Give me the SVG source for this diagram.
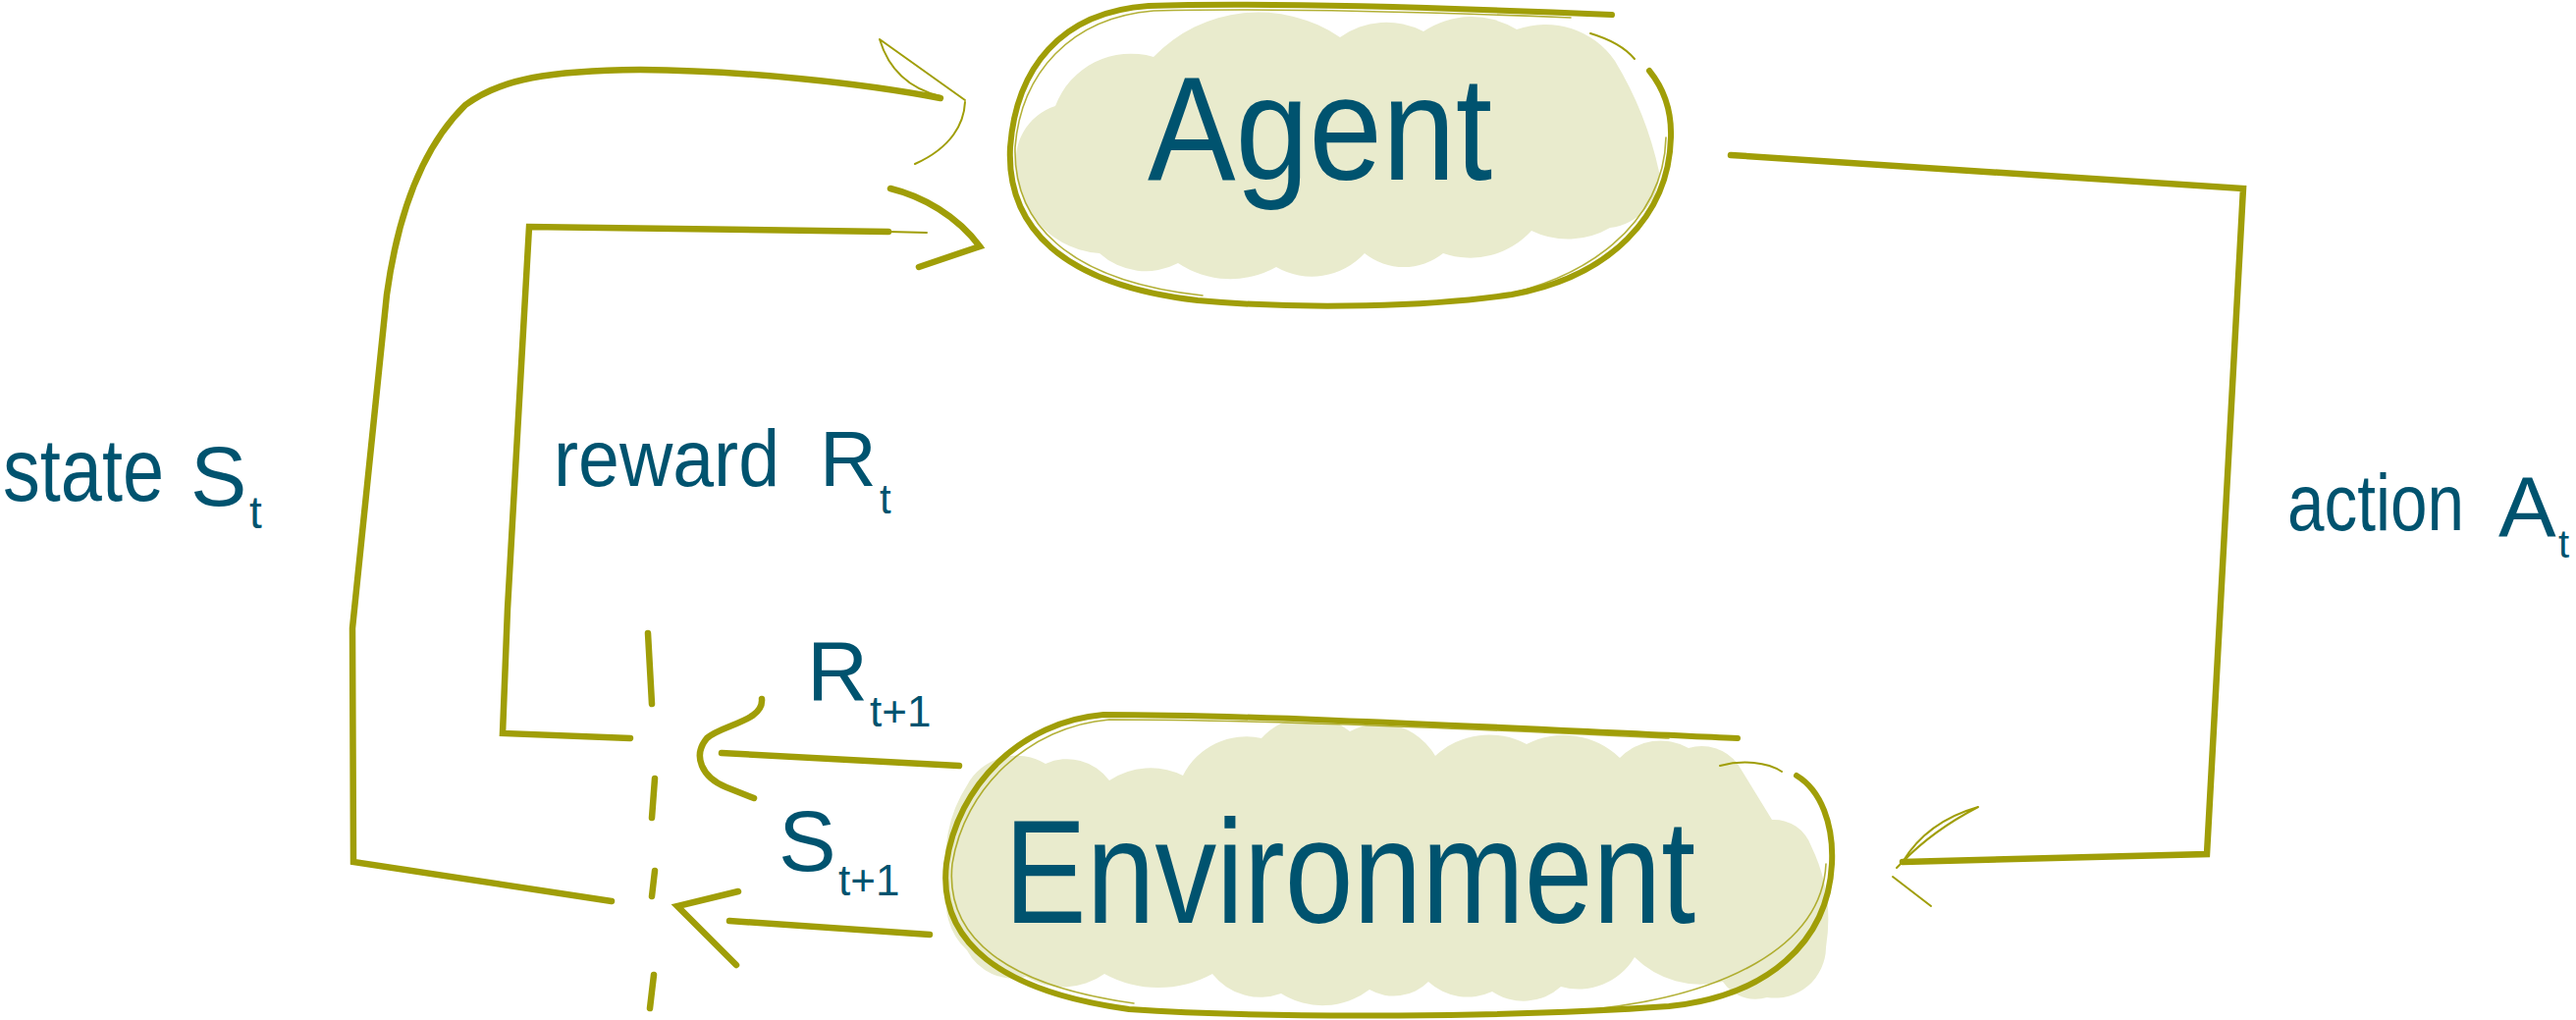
<svg xmlns="http://www.w3.org/2000/svg" width="2624" height="1039" viewBox="0 0 2624 1039">
<defs>
<style>
.ol{fill:none;stroke:#a09e08;stroke-width:6;stroke-linecap:round;stroke-linejoin:round}
.olt{fill:none;stroke:#a09e08;stroke-width:1.6;stroke-linecap:round;stroke-linejoin:round;opacity:0.8}
.cn{fill:none;stroke:#a09e08;stroke-width:6.5;stroke-linecap:round;stroke-linejoin:miter}
.thin{fill:none;stroke:#a09e08;stroke-width:2;stroke-linecap:round;stroke-linejoin:round}
.cloud{fill:#e9ebcd;stroke:none}
.lbl{font-family:"Liberation Sans",Arial,sans-serif;fill:#00536f}
.node{font-family:"Liberation Sans",Arial,sans-serif;fill:#00536f;font-size:150px}
</style>
</defs>
<rect width="2624" height="1039" fill="#ffffff"/>

<g id="agent">
<path class="cloud" d="M1036,175 A58,58 0 0 1 1075,108 A82,82 0 0 1 1175,58 A148,148 0 0 1 1365,38 A81,81 0 0 1 1450,32 A88,88 0 0 1 1545,30 A86,86 0 0 1 1645,62 A368,368 0 0 1 1690,175 A56,56 0 0 1 1640,232 A85,85 0 0 1 1560,235 A84,84 0 0 1 1470,258 A64,64 0 0 1 1390,258 A73,73 0 0 1 1300,272 A96,96 0 0 1 1200,268 A70,70 0 0 1 1120,258 A90,90 0 0 1 1036,175 Z"/>
<path class="ol" d="M1642,15 C1500,9 1300,2 1170,6 C1080,12 1035,70 1029,150 C1025,230 1080,290 1220,306 C1330,316 1460,312 1540,300 C1640,282 1700,220 1702,140 C1703,110 1693,88 1680,72"/>
<path class="olt" d="M1600,18 C1450,12 1290,8 1175,11 C1090,18 1040,75 1034,150 C1032,225 1085,286 1225,301 M1500,306 C1620,290 1695,225 1697,140"/>
<path class="thin" d="M1620,34 C1640,40 1655,48 1665,60"/>
<text class="node" x="1169" y="183" textLength="351" lengthAdjust="spacingAndGlyphs">Agent</text>
</g>

<g id="environment">
<path class="cloud" d="M966,900 A135,135 0 0 1 985,800 A57,57 0 0 1 1065,778 A53,53 0 0 1 1130,795 A75,75 0 0 1 1205,790 A72,72 0 0 1 1285,752 A65,65 0 0 1 1375,745 A65,65 0 0 1 1462,770 A81,81 0 0 1 1555,758 A82,82 0 0 1 1650,772 A58,58 0 0 1 1720,762 A46,46 0 0 1 1770,778 L1805,835 A40,40 0 0 1 1845,862 A173,173 0 0 1 1860,965 A52,52 0 0 1 1800,1016 A40,40 0 0 1 1755,1000 A96,96 0 0 1 1665,975 A66,66 0 0 1 1590,1005 A57,57 0 0 1 1520,1010 A59,59 0 0 1 1455,1000 A50,50 0 0 1 1395,1008 A79,79 0 0 1 1305,1012 A62,62 0 0 1 1235,992 A115,115 0 0 1 1125,992 A73,73 0 0 1 1045,995 A53,53 0 0 1 985,968 A68,68 0 0 1 966,900 Z"/>
<path class="ol" d="M1770,752 C1600,745 1300,728 1124,728 C1040,735 975,800 964,880 C955,960 1020,1010 1150,1028 C1300,1038 1550,1036 1700,1025 C1800,1015 1862,960 1866,880 C1868,840 1855,805 1830,790"/>
<path class="olt" d="M1700,752 C1550,745 1300,733 1130,733 C1048,740 982,803 970,880 C962,955 1025,1004 1155,1022 M1600,1030 C1760,1018 1856,962 1860,880"/>
<path class="thin" d="M1752,780 C1775,774 1800,776 1815,786"/>
<text class="node" x="1023" y="940" textLength="704" lengthAdjust="spacingAndGlyphs">Environment</text>
</g>

<g id="connectors">
<path class="cn" d="M623,918 L360,878 L359,640 L394,300 C405,220 430,150 474,107 C510,80 560,72 652,71 C760,72 880,85 958,100"/>
<path class="thin" d="M958,98 C925,90 905,70 896,40 L983,102 M983,104 C982,125 970,150 932,167"/>
<path class="cn" d="M642,752 L512,747 L517,620 L539,231 L905,236"/>
<path class="thin" d="M905,236 L944,237"/>
<path class="cn" d="M907,192 C940,200 975,220 998,251 L936,272"/>
<path class="cn" d="M1763,158 L2285,192 L2248,870 L1938,878"/>
<path class="thin" d="M1938,878 C1955,850 1980,832 2015,822 C1990,835 1960,855 1938,878 M1938,878 L1932,884 M1928,893 L1967,923"/>
<path class="cn" d="M735,767 L977,780"/>
<path class="cn" d="M776,712 C778,735 735,738 720,752 C705,770 715,792 740,802 L768,813"/>
<path class="cn" d="M743,938 L947,952"/>
<path class="cn" d="M752,908 L690,923 L750,983"/>
<path class="cn" d="M660,645 L664,717 M667,793 L664,833 M667,887 L664,913 M666,993 L662,1027"/>
</g>

<g id="labels">
<text class="lbl" font-size="90"><tspan x="3" y="510" textLength="164" lengthAdjust="spacingAndGlyphs">state</tspan><tspan x="194" y="515" font-size="86">S</tspan><tspan x="254" y="538" font-size="46">t</tspan></text>
<text class="lbl" font-size="82"><tspan x="564" y="495" textLength="230" lengthAdjust="spacingAndGlyphs">reward</tspan><tspan x="835" y="495" font-size="80">R</tspan><tspan x="896" y="523" font-size="42">t</tspan></text>
<text class="lbl" font-size="82"><tspan x="2330" y="540" textLength="180" lengthAdjust="spacingAndGlyphs">action</tspan><tspan x="2545" y="547" font-size="88">A</tspan><tspan x="2606" y="568" font-size="40">t</tspan></text>
<text class="lbl" font-size="86"><tspan x="822" y="713">R</tspan><tspan x="886" y="740" font-size="44">t+1</tspan></text>
<text class="lbl" font-size="88"><tspan x="793" y="887">S</tspan><tspan x="854" y="912" font-size="44">t+1</tspan></text>
</g>
</svg>
